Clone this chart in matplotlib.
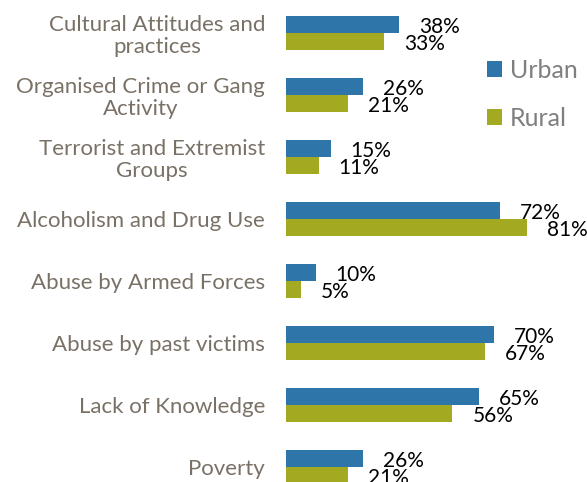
import matplotlib
matplotlib.use("Agg")
import matplotlib.pyplot as plt
import numpy as np

categories = ["Cultural Attitudes and\npractices",
              "Organised Crime or Gang\nActivity",
              "Terrorist and Extremist\nGroups",
              "Alcoholism and Drug Use",
              "Abuse by Armed Forces",
              "Abuse by past victims",
              "Lack of Knowledge",
              "Poverty"]
urban = [38, 26, 15, 72, 10, 70, 65, 26]
rural = [33, 21, 11, 81, 5, 67, 56, 21]
series_names = ["Urban", "Rural"]

URBAN_C = "#2E75A9"
RURAL_C = "#A3A921"
LABEL_C = "#7A7166"

plt.rcParams['font.family'] = ['Lato', 'DejaVu Sans']

W, H = 587, 482
fig = plt.figure(figsize=(W/100, H/100), dpi=100)
ax = fig.add_axes([286/W, 0, (W-286)/W, 1])

y = np.arange(len(categories))
h = 17/62
bu = ax.barh(y - h/2, urban, height=h, color=URBAN_C, label=series_names[0])
br = ax.barh(y + h/2, rural, height=h, color=RURAL_C, label=series_names[1])

ax.set_xlim(0, 101.3)
ax.set_ylim(7 + 15/62, -33/62)

for yi, v in zip(y, urban):
    ax.annotate(f"{v}%", (v, yi - h/2), xytext=(14.4, -1.5), textcoords="offset points",
                ha="left", va="center", fontsize=15, color="black")
for yi, v in zip(y, rural):
    ax.annotate(f"{v}%", (v, yi + h/2), xytext=(14.4, -1.5), textcoords="offset points",
                ha="left", va="center", fontsize=15, color="black")

ax.set_yticks(y)
ax.set_yticklabels(categories, fontsize=16, color=LABEL_C, multialignment="center",
                   linespacing=1.15)
ax.tick_params(axis="y", length=0, pad=15)
ax.set_xticks([])
for s in ax.spines.values():
    s.set_visible(False)

leg = ax.legend(handles=[bu, br], loc="center left",
                bbox_to_anchor=(487/W, 1 - 94/H), bbox_transform=fig.transFigure,
                frameon=False, fontsize=18, borderpad=0, borderaxespad=0,
                handlelength=0.6, handleheight=0.6, handletextpad=0.3, labelspacing=1.0)
for t in leg.get_texts():
    t.set_color("#7F7F7F")

fig.savefig("out.png", dpi=100)
